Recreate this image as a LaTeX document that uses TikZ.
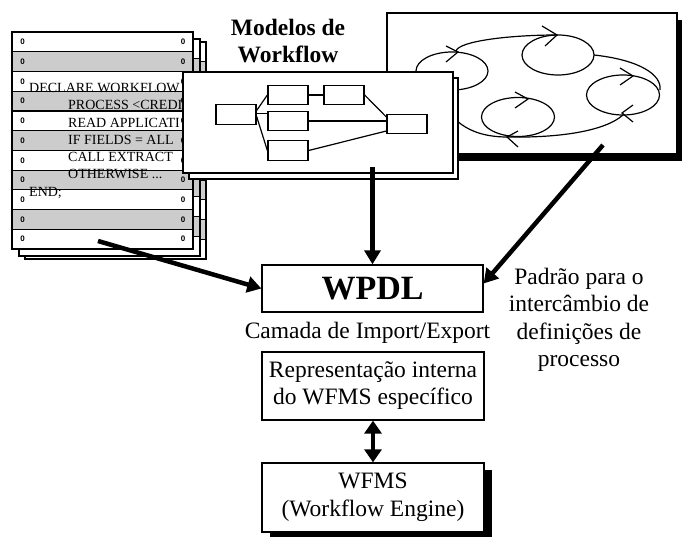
\documentclass[tikz,border=0pt]{standalone}
\usepackage{fontspec}
\setmainfont{Liberation Serif}
\newfontfamily\digitfont{Liberation Sans}
\usetikzlibrary{arrows.meta}
\definecolor{rowgray}{gray}{0.8}

% one striped listing sheet: top-left corner #1,#2 and a name prefix #3
\newcommand\listsheet[3]{%
  \begin{scope}[shift={(#1,#2)}]
    \foreach \i in {0,...,10}{
      \pgfmathsetmacro\ya{\i*19.73}
      \pgfmathsetmacro\yb{(\i+1)*19.73}
      \pgfmathtruncatemacro\odd{mod(\i,2)}
      \ifnum\odd=1 \def\rowfill{rowgray}\else\def\rowfill{white}\fi
      \draw[rowline, fill=\rowfill] (0,\ya) rectangle (181,\yb);
      \node[digit] (#3l\i) at (10.5,\ya+9.9) {0};
      \node[digit] (#3r\i) at (171,\ya+9.9) {0};
    }
  \end{scope}}

\begin{document}
\begin{tikzpicture}[x=1pt, y=-1pt,
  thinline/.style={line width=1.2pt},
  rowline/.style={line width=1.2pt},
  digit/.style={font=\digitfont\bfseries\fontsize{8}{9}\selectfont, inner sep=0},
  code/.style={font=\fontsize{14}{16}\selectfont, inner sep=0, anchor=base west},
  label/.style={font=\fontsize{23.5}{27.5}\selectfont, align=center, inner sep=0},
  mbox/.style={draw, line width=1.3pt, fill=white, minimum width=40pt, minimum height=19.5pt, inner sep=0},
  bigbox/.style={draw, line width=1.3pt, fill=white, minimum width=222pt, inner sep=0},
  bigarrow/.style={line width=4.5pt, -{Triangle[length=14pt,width=16pt]}},
  duoarrow/.style={line width=4.5pt, {Triangle[length=13pt,width=17pt]}-{Triangle[length=13pt,width=17pt]}},
  flow/.style={line width=1.2pt}]
\useasboundingbox (0,0) rectangle (682,537);

% ---- stack of program listings
\listsheet{25}{42}{sc}
\listsheet{19}{39}{sb}
\listsheet{12}{32}{sa}
\node[code] (c1) at (29,92.5) {DECLARE WORKFLOW};
\node[code] (c2) at (68,109.8) {PROCESS <CREDI};
\node[code] (c3) at (68,127.1) {READ APPLICATI};
\node[code] (c4) at (68,144.4) {IF FIELDS = ALL};
\node[code] (c5) at (68,161.7) {CALL EXTRACT};
\node[code] (c6) at (68,179) {OTHERWISE ...};
\node[code] (c7) at (29,196.3) {END;};

% ---- process map with shadow
\fill (393,20) rectangle (683,161);
\draw[thinline, fill=white] (387,13) rectangle (677,154);
\draw[flow] (452,71) ellipse [x radius=36, y radius=19];
\draw[flow] (558,55) ellipse [x radius=36, y radius=20];
\draw[flow] (518,117) ellipse [x radius=36.5, y radius=19.5];
\draw[flow] (623,95) ellipse [x radius=36.5, y radius=20];
\draw[flow] (456,51) .. controls (459,41) and (510,35) .. (557,35);
\draw[flow] (594,55) .. controls (640,60) and (662,75) .. (660,90);
\draw[flow] (623,115) .. controls (605,131) and (560,138) .. (507,137);
\draw[flow] (440,88) .. controls (445,120) and (470,137) .. (507,137);
% open arrow marks along the flows
\draw[flow] (446,46) -- (458,52) -- (446,62);
\draw[flow] (542,26) -- (557,35) -- (545,46);
\draw[flow] (620,68) -- (633,76) -- (620,85);
\draw[flow] (633,105) -- (622,113) -- (633,122);
\draw[flow] (515,92) -- (528,99) -- (515,108);
\draw[flow] (518,131) -- (507,137) -- (518,147);

% ---- workflow model sheets
\draw[thinline, fill=white] (189,78) rectangle (458,179);
\draw[thinline, fill=white] (183,72) rectangle (453,173);
\node[mbox] (ma) at (236,114.5) {};
\node[mbox] (mb) at (288,95) {};
\node[mbox] (mc) at (344,95) {};
\node[mbox] (md) at (288,121) {};
\node[mbox] (me) at (288,150.5) {};
\node[mbox] (mf) at (407,124) {};
\draw[flow] ([yshift=4pt]ma.east) -- (mb.west);
\draw[flow] ([yshift=1pt]ma.east) -- ([yshift=1pt]ma.east -| md.west);
\draw[flow] ([yshift=-2pt]ma.east) -- (me.west);
\draw[flow] (mb.east) -- (mc.west);
\draw[flow] (mc.east) -- ([yshift=7pt]mf.west);
\draw[flow] (md.east) -- (md.east -| mf.west);
\draw[flow] (me.east) -- ([yshift=-7pt]mf.west);
\node[label, font=\fontsize{23.5}{27}\selectfont\bfseries] (models) at (288,41.5) {Modelos de\\Workflow};

% ---- import/export layer
\node[bigbox, minimum width=221pt, minimum height=47pt] (wpdl) at (372.5,288.5)
  {\fontsize{34}{40}\selectfont\bfseries WPDL};
\node[label] (layer) at (367.5,333) {Camada de Import/Export};
\node[label] (std) at (579,320) {Padrão para o\\intercâmbio de\\definições de\\processo};
\node[bigbox, minimum height=68pt, font=\fontsize{23.5}{27}\selectfont, align=center] (rep) at (373,386)
  {Representação interna\\do WFMS específico};
\fill ([shift={(8pt,-7pt)}]373,497.5) +(-111,-34.5) rectangle +(111,34.5);
\node[bigbox, minimum height=69pt, font=\fontsize{23.5}{28}\selectfont, align=center] (wfms) at (373,497.5)
  {WFMS\\(Workflow Engine)};

% ---- connectors
\coordinate (srcl) at (98,241);
\coordinate (srcm) at (372.5,167);
\coordinate (srcp) at (603,145);
\draw[bigarrow] (srcl) -- (wpdl.west);
\draw[bigarrow] (srcm) -- (wpdl.north);
\draw[bigarrow] (srcp) -- ([yshift=5pt]wpdl.east);
\draw[duoarrow] (rep.south) -- (wfms.north);
\end{tikzpicture}
\end{document}
